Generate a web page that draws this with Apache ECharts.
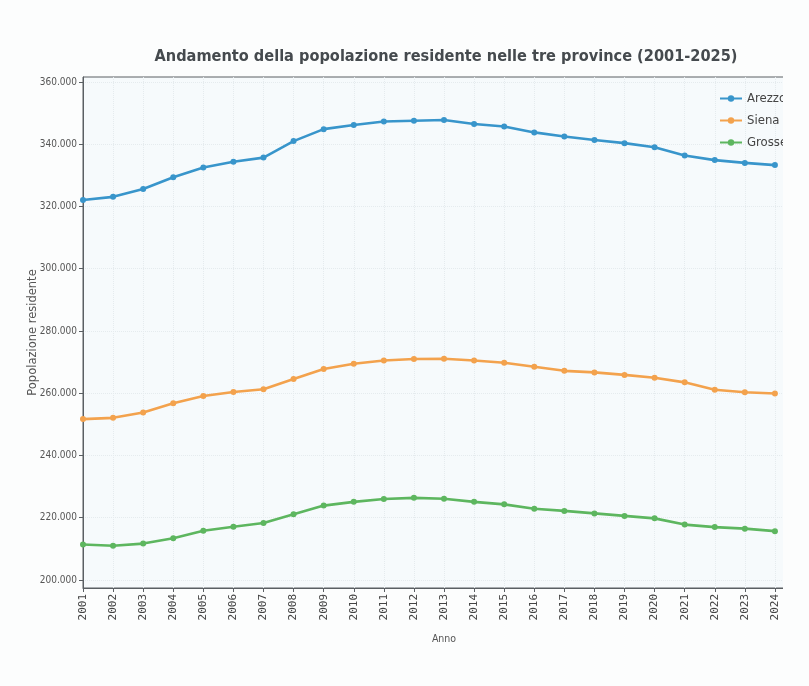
<!DOCTYPE html>
<html>
<head>
<meta charset="utf-8">
<script src="https://cdn.jsdelivr.net/npm/echarts@6/dist/echarts.min.js"></script>
<style>
  html, body { margin: 0; padding: 0; background: #fcfdfd; }
  #chart { width: 809px; height: 686px; }
</style>
</head>
<body>
<div id="chart"></div>
<script>
// Popolazione residente al 1° gennaio, province di Arezzo, Siena e Grosseto
const years = [2001, 2002, 2003, 2004, 2005, 2006, 2007, 2008, 2009, 2010, 2011, 2012,
               2013, 2014, 2015, 2016, 2017, 2018, 2019, 2020, 2021, 2022, 2023, 2024];
const arezzo = [322100, 323100, 325600, 329400, 332500, 334400, 335700, 341000, 344850, 346200, 347300, 347550,
                347800, 346500, 345700, 343800, 342500, 341350, 340350, 339050, 336400, 334900, 334000, 333300];
const siena = [251700, 252100, 253800, 256800, 259100, 260400, 261300, 264600, 267800, 269500, 270500, 271000,
               271100, 270500, 269800, 268500, 267200, 266700, 265900, 265000, 263500, 261100, 260300, 259900];
const grosseto = [211400, 211000, 211700, 213400, 215800, 217100, 218300, 221100, 223900, 225100, 226000, 226400,
                  226100, 225100, 224300, 222900, 222200, 221400, 220600, 219800, 217800, 217000, 216500, 215700];
const seriesNames = ['Arezzo', 'Siena', 'Grosseto'];
const yTicks = [200000, 220000, 240000, 260000, 280000, 300000, 320000, 340000, 360000];

const colors = ['#3895cb', '#f3a24d', '#5db65f'];

const fmtIt = v => Math.round(v).toString().replace(/\B(?=(\d{3})+(?!\d))/g, '.');

const chart = echarts.init(document.getElementById('chart'), null, { renderer: 'canvas' });

function makeSeries(name, values, color) {
  return {
    name: name,
    type: 'line',
    data: years.map((y, i) => [y, values[i]]),
    symbol: 'circle',
    symbolSize: 6,
    lineStyle: { width: 2.6, color: color },
    itemStyle: { color: color },
    emphasis: { disabled: true },
    z: 3
  };
}

chart.setOption({
  backgroundColor: '#fcfdfd',
  animation: false,
  title: {
    text: 'Andamento della popolazione residente nelle tre province (2001-2025)',
    left: 445,
    textAlign: 'center',
    top: 44,
    textStyle: {
      fontFamily: 'DejaVu Sans Condensed',
      fontWeight: 'bold',
      fontSize: 16.2,
      color: '#454a4e'
    }
  },
  legend: {
    orient: 'vertical',
    left: 714,
    top: 87,
    itemGap: 9,
    itemWidth: 22,
    itemHeight: 8,
    data: seriesNames,
    textStyle: { fontFamily: 'DejaVu Sans Condensed', fontSize: 13, color: '#444' }
  },
  grid: {
    left: 83,
    right: 4,
    top: 77,
    bottom: 98,
    show: true,
    backgroundColor: '#f6fafc',
    borderColor: '#5a5f63',
    borderWidth: 1
  },
  xAxis: {
    type: 'value',
    min: 2001,
    max: 2025,
    interval: 1,
    name: 'Anno',
    nameLocation: 'middle',
    nameGap: 46,
    nameMoveOverlap: false,
    nameTextStyle: { fontFamily: 'DejaVu Sans Condensed', fontSize: 10.5, color: '#555' },
    axisLine: { show: true, onZero: false, lineStyle: { color: '#5a5f63', width: 1 } },
    axisTick: { show: true, length: 4, lineStyle: { color: '#5a5f63' } },
    axisLabel: {
      rotate: 90,
      margin: 6,
      fontFamily: 'DejaVu Sans Mono',
      fontSize: 11,
      color: '#444',
      formatter: v => (v >= 2001 && v <= 2024) ? String(v) : ''
    },
    splitLine: { show: true, lineStyle: { color: '#e5ebee', width: 1, type: 'dotted' } }
  },
  yAxis: {
    type: 'value',
    min: 197430,
    max: 361600,
    name: 'Popolazione residente',
    nameLocation: 'middle',
    nameGap: 44,
    nameMoveOverlap: false,
    nameTextStyle: { fontFamily: 'DejaVu Sans', fontSize: 11.5, color: '#555' },
    axisLine: { show: true, lineStyle: { color: '#5a5f63', width: 1 } },
    axisTick: { show: true, length: 4, lineStyle: { color: '#5a5f63' }, customValues: yTicks },
    axisLabel: {
      margin: 6,
      fontFamily: 'DejaVu Sans Condensed',
      fontSize: 10,
      color: '#555',
      customValues: yTicks,
      formatter: v => fmtIt(v)
    },
    splitLine: { show: true, lineStyle: { color: '#e5ebee', width: 1, type: 'dotted' } }
  },
  series: [
    makeSeries(seriesNames[0], arezzo, colors[0]),
    makeSeries(seriesNames[1], siena, colors[1]),
    makeSeries(seriesNames[2], grosseto, colors[2])
  ],
  graphic: [
    {
      // the page edge trims the right side of the plot frame and legend
      type: 'rect',
      left: 783,
      top: 0,
      shape: { width: 26, height: 686 },
      style: { fill: '#fcfdfd' },
      z: 100
    }
  ]
});
chart.setOption({ title: { left: 441 } });
</script>
</body>
</html>
